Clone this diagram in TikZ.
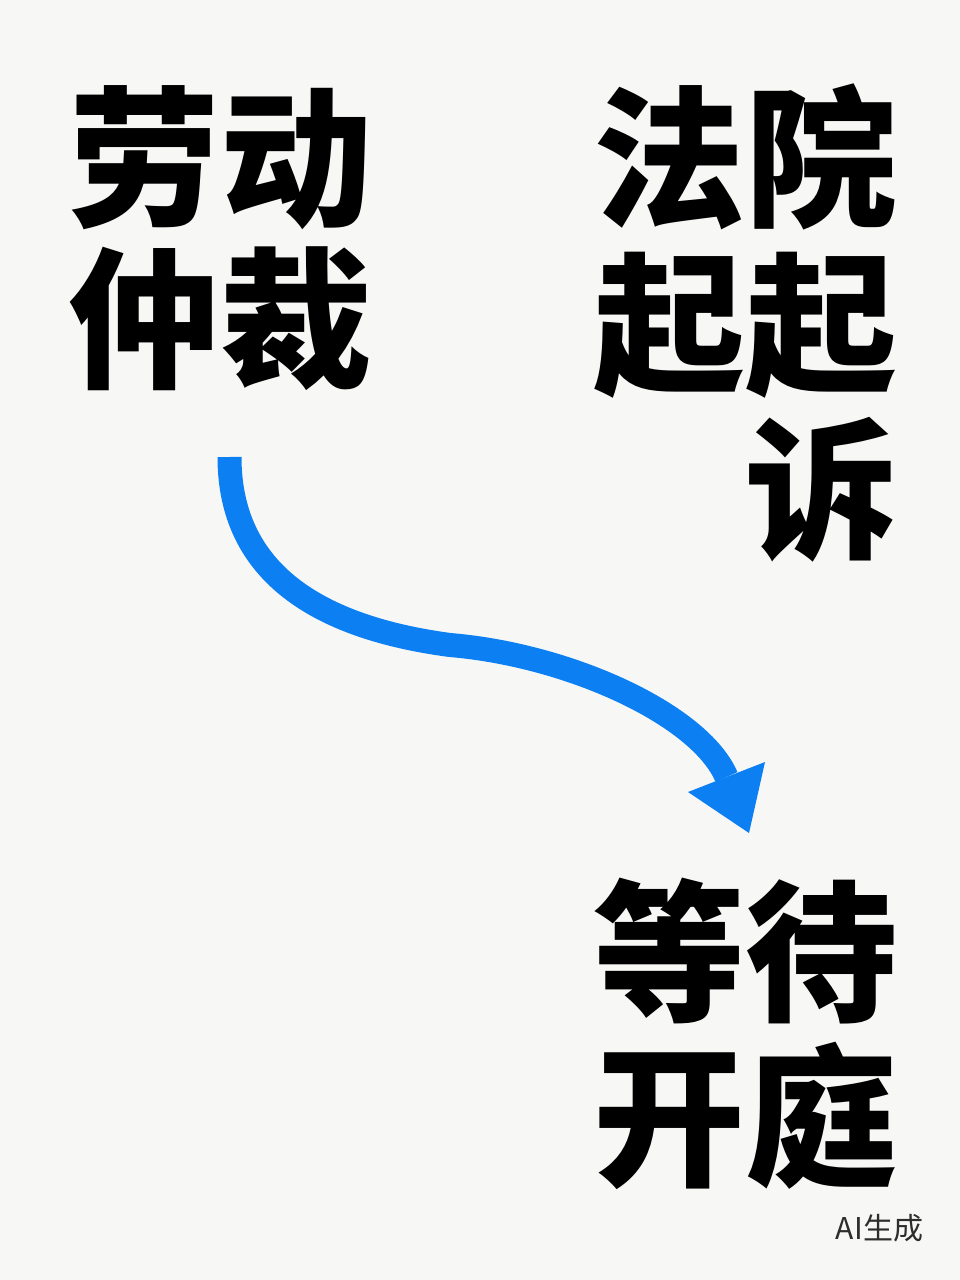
\documentclass[tikz,border=0pt]{standalone}
\usepackage{fontspec}
\newfontfamily\cjk{Noto Sans CJK SC}
\definecolor{bgc}{RGB}{247,247,245}
\definecolor{arrowblue}{RGB}{12,128,242}
\definecolor{marktext}{RGB}{45,45,45}
\begin{document}
\begin{tikzpicture}[x=1pt,y=-1pt,
  bigtext/.style={inner sep=0pt, outer sep=0pt, font=\cjk\bfseries\fontsize{152}{160}\selectfont, text=black},
  smalltext/.style={inner sep=0pt, outer sep=0pt, font=\cjk\fontsize{30}{34}\selectfont, text=marktext},
  flow/.style={draw=arrowblue, line width=24pt, line cap=butt},
  flowhead/.style={fill=arrowblue, draw=none}]
\fill[bgc] (0,0) rectangle (960,1280);
\useasboundingbox (0,0) rectangle (960,1280);
% left column
\node[bigtext, anchor=base west] (l1) at (68,215) {劳动};
\node[bigtext, anchor=base west] (l2) at (68,376) {仲裁};
% right column top
\node[bigtext, anchor=base east] (r1) at (897,215) {法院};
\node[bigtext, anchor=base east] (r2) at (897,381) {起起};
\node[bigtext, anchor=base east] (r3) at (897,547) {诉};
% right column bottom
\node[bigtext, anchor=base east] (b1) at (897,1009) {等待};
\node[bigtext, anchor=base east] (b2) at (897,1174) {开庭};
% watermark
\node[smalltext, anchor=base east] (ai) at (923,1239) {AI生成};
% arrow
\coordinate (s) at (229.5,457);
\coordinate (m) at (450,645);
\coordinate (e) at (726.5,777);
\coordinate (hl) at (688,792);
\coordinate (hr) at (765,762);
\coordinate (ht) at (749,833);
\draw[flow] (s) .. controls (229.5,560) and (300,625) .. (m)
  .. controls (570,655) and (700,715) .. (e);
\fill[flowhead] (hl) -- (hr) -- (ht) -- cycle;
\end{tikzpicture}
\end{document}
